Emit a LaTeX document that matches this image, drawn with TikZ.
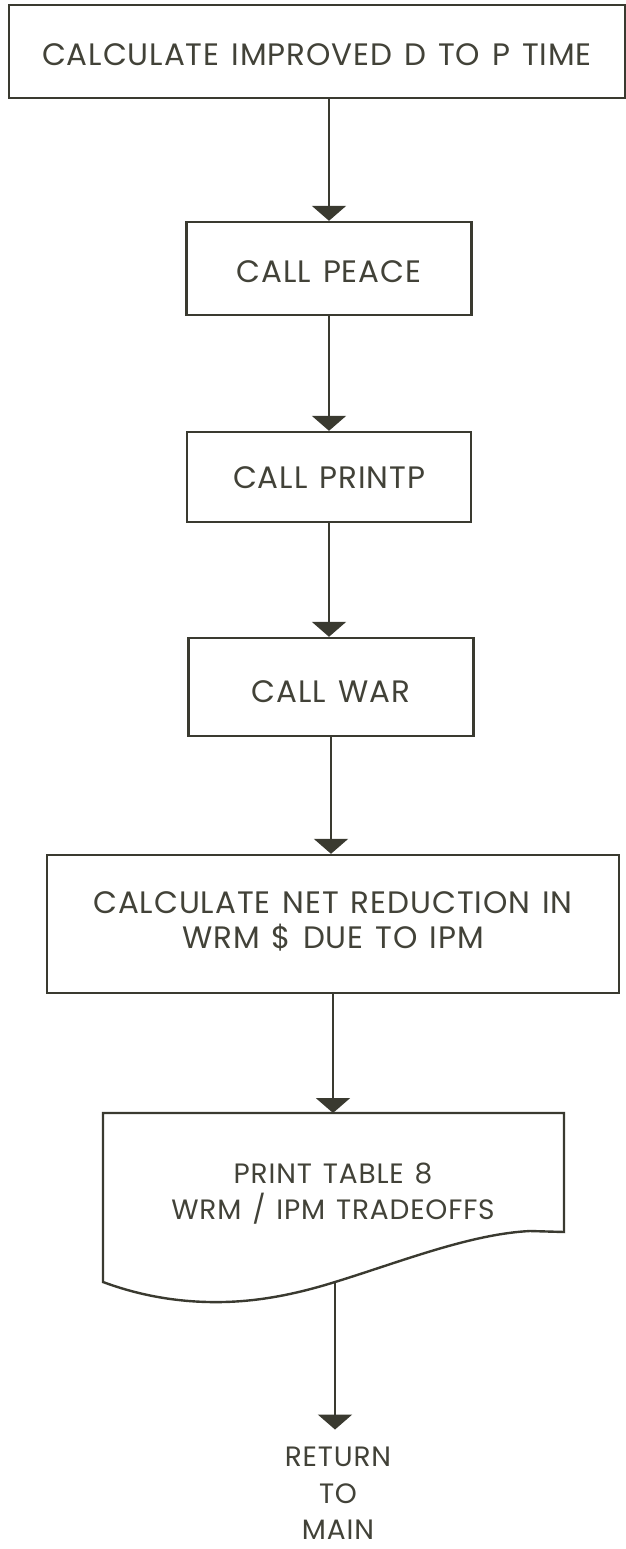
\documentclass[tikz,border=0pt]{standalone}
\usepackage{fontspec}
\setmainfont{Poppins}[LetterSpace=3, WordSpace=1.3]
\usetikzlibrary{arrows.meta}
\definecolor{ink}{RGB}{58,58,48}
\definecolor{txt}{RGB}{66,66,56}
\begin{document}
\begin{tikzpicture}[x=1pt,y=-1pt,
  box/.style={draw=ink, line width=2.4pt, rectangle, inner sep=0pt, text=txt,
              font=\fontsize{31}{35}\selectfont, align=center},
  flow/.style={draw=ink, line width=2.4pt, -{Triangle[width=34pt,length=15pt]}},
  lbl/.style={text=txt, font=\fontsize{28}{36.5}\selectfont, align=center, inner sep=0pt}]
\useasboundingbox[fill=white] (0,0) rectangle (626,1549);

% process boxes (text height pushes the caps slightly below centre)
\node[box, minimum width=616pt, minimum height=93pt, text height=28.5pt] (top) at (317,51.5) {CALCULATE IMPROVED D TO P TIME};
\node[box, minimum width=285pt, minimum height=93pt, text height=28.5pt] (peace) at (329,268.5) {CALL PEACE};
\node[box, minimum width=284pt, minimum height=90pt, text height=23.5pt] (printp) at (329,477) {CALL PRINTP};
\node[box, minimum width=285pt, minimum height=98pt, text height=31.5pt] (war) at (331,687) {CALL WAR};
\node[box, minimum width=572pt, minimum height=138pt] (net) at (333,924)
  {\raisebox{-9.5pt}{\begin{tabular}{@{}c@{}}CALCULATE NET REDUCTION IN\\WRM \$ DUE TO IPM\end{tabular}}};

% document (printed output) symbol
\coordinate (doctop) at (335,1113);
\coordinate (docbot) at (335,1282);
\draw[ink, line width=2.4pt, line join=miter]
  (103,1282) -- (103,1113) -- (564,1113) -- (564,1232) -- (530,1231)
  .. controls (470,1234) and (400,1262) .. (docbot)
  .. controls (290,1296) and (250,1303) .. (208,1302)
  .. controls (165,1301) and (130,1292) .. cycle;
\node[lbl] (doc) at (333,1193.5) {PRINT TABLE 8\\WRM / IPM TRADEOFFS};

% terminal label
\node[lbl] (ret) at (338,1493.5) {RETURN\\TO\\MAIN};
\coordinate (retin) at ([yshift=17.5pt]ret.north);

% connectors
\draw[flow] (top.south -| peace.north) -- (peace.north);
\draw[flow] (peace.south) -- (printp.north);
\draw[flow] (printp.south) -- (printp.south |- war.north);
\draw[flow] (war.south) -- (war.south |- net.north);
\draw[flow] (net.south) -- (net.south |- doctop);
\draw[flow] (docbot) -- (docbot |- retin);
\end{tikzpicture}
\end{document}
